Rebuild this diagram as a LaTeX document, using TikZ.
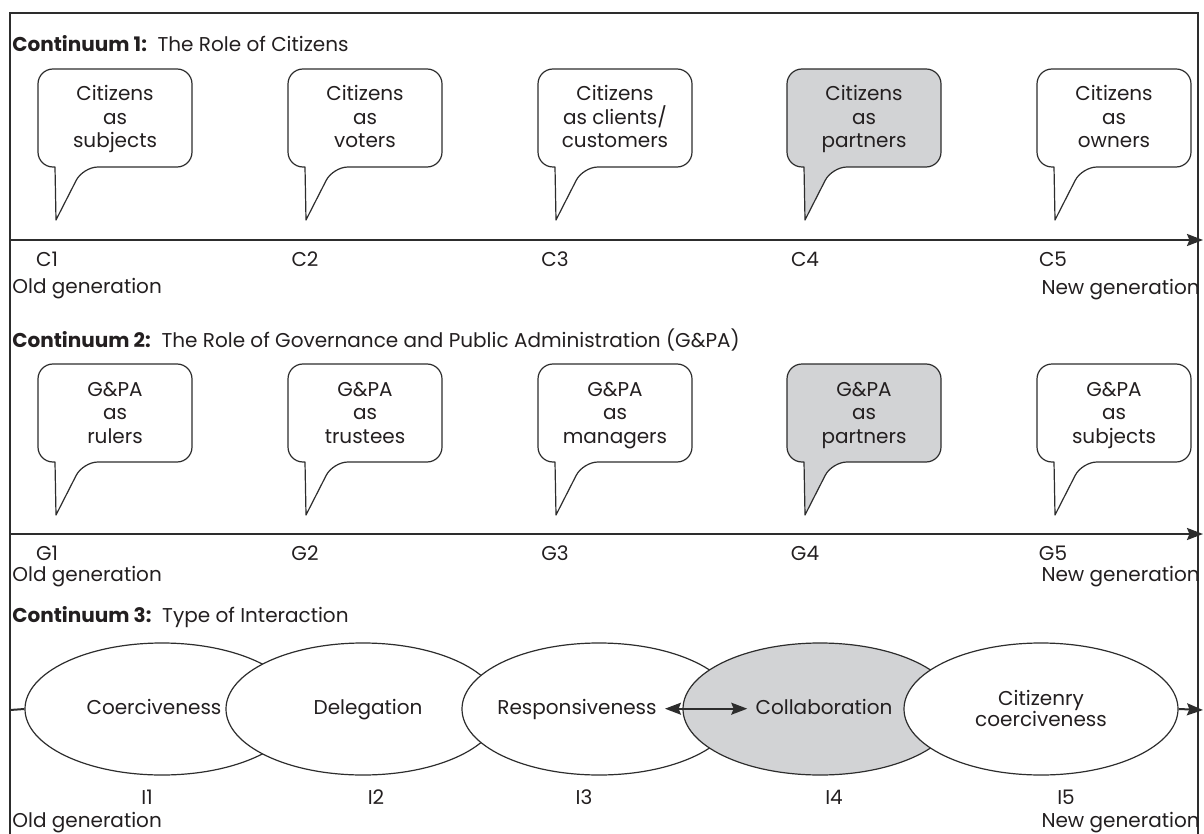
\documentclass[tikz,border=0pt]{standalone}
\usepackage{fontspec}
\setmainfont{Poppins}
\usetikzlibrary{arrows.meta,shapes.geometric}
\definecolor{ink}{RGB}{35,31,32}
\definecolor{rule}{RGB}{45,45,45}
\definecolor{shade}{RGB}{210,211,213}
\tikzset{
  tip/.tip={Stealth[length=8pt,width=6pt,inset=1.2pt]},
  bubble/.style={draw=rule, line width=0.6pt, line join=round},
  bubtext/.style={align=center, text=ink, inner sep=0pt, anchor=base,
    font=\fontsize{10}{11.75}\selectfont},
  axisline/.style={draw=rule, line width=1pt, -tip},
  frameline/.style={draw=rule, line width=1pt},
  heading/.style={anchor=west, text=ink, inner sep=0pt,
    font=\fontsize{10}{12}\selectfont},
  ticklabel/.style={text=ink, inner sep=0pt, font=\fontsize{10}{12}\selectfont},
  genlabel/.style={text=ink, inner sep=0pt, font=\fontsize{10}{12}\selectfont},
  stage/.style={ellipse, draw=rule, line width=0.6pt, fill=white,
    minimum width=137pt, minimum height=66pt, inner sep=0pt},
  stagetext/.style={align=center, text=ink, inner sep=1pt, anchor=base,
    text height=7.5pt, text depth=2.2pt, font=\fontsize{10}{10.5}\selectfont},
  stagetwo/.style={align=center, text=ink, inner sep=1pt, anchor=base,
    font=\fontsize{10}{10.5}\selectfont},
}
% speech bubble: name, left x, top y, fill colour, text (base = last line)
\newcommand\speechbubble[5]{%
  \draw[bubble, fill=#4] ({#2+17},{#3+98}) [rounded corners=7.5pt]
    -- ({#2},{#3+98}) -- ({#2},{#3}) -- ({#2+154},{#3}) -- ({#2+154},{#3+98})
    -- ({#2+45},{#3+98}) [sharp corners] -- ({#2+18},{#3+151}) -- cycle;
  \node[bubtext] (#1) at ({#2+77},{#3+79}) {#5};}
\begin{document}
\begin{tikzpicture}[x=0.5pt, y=-0.5pt]
\useasboundingbox (0,0) rectangle (1204,834);
% outer frame (open at the bottom)
\draw[frameline] (10,834) -- (10,13) -- (1198,13) -- (1198,834);

% ---------------- Continuum 1 ----------------
\node[heading] (h1) at (12,44) {\textbf{Continuum 1:}\ \ The Role of Citizens};
\speechbubble{c1}{38}{69}{white}{Citizens\\as\\subjects}
\speechbubble{c2}{288}{69}{white}{Citizens\\as\\voters}
\speechbubble{c3}{538}{69}{white}{Citizens\\as clients/\\customers}
\speechbubble{c4}{787}{69}{shade}{Citizens\\as\\partners}
\speechbubble{c5}{1037}{69}{white}{Citizens\\as\\owners}
\coordinate (a1s) at (10,240);
\coordinate (a1e) at (1203,240);
\draw[axisline] (a1s) -- (a1e);
\node[ticklabel] (tc1) at (47,259) {C1};
\node[ticklabel] (tc2) at (305,259) {C2};
\node[ticklabel] (tc3) at (555,259) {C3};
\node[ticklabel] (tc4) at (805,259) {C4};
\node[ticklabel] (tc5) at (1053,259) {C5};
\node[genlabel, anchor=west] (old1) at (12,289) {Old generation};
\node[genlabel, anchor=east] (new1) at (1200,290) {New generation};

% ---------------- Continuum 2 ----------------
\node[heading] (h2) at (12,340) {\textbf{Continuum 2:}\ \ The Role of Governance and Public Administration (G\&PA)};
\speechbubble{g1}{38}{364}{white}{G\&PA\\as\\rulers}
\speechbubble{g2}{288}{364}{white}{G\&PA\\as\\trustees}
\speechbubble{g3}{538}{364}{white}{G\&PA\\as\\managers}
\speechbubble{g4}{787}{364}{shade}{G\&PA\\as\\partners}
\speechbubble{g5}{1037}{364}{white}{G\&PA\\as\\subjects}
\coordinate (a2s) at (10,534);
\coordinate (a2e) at (1203,534);
\draw[axisline] (a2s) -- (a2e);
\node[ticklabel] (tg1) at (47,553) {G1};
\node[ticklabel] (tg2) at (305,553) {G2};
\node[ticklabel] (tg3) at (555,553) {G3};
\node[ticklabel] (tg4) at (805,553) {G4};
\node[ticklabel] (tg5) at (1053,553) {G5};
\node[genlabel, anchor=west] (old2) at (12,577) {Old generation};
\node[genlabel, anchor=east] (new2) at (1200,577) {New generation};

% ---------------- Continuum 3 ----------------
\node[heading] (h3) at (12,617) {\textbf{Continuum 3:}\ \ Type of Interaction};
\node[stage] (e1) at (162,709) {};
\node[stage] (e2) at (363,709) {};
\node[stage] (e3) at (599,709) {};
\node[stage, fill=shade] (e4) at (820,709) {};
\node[stage] (e5) at (1041,709) {};
\node[stagetext] (coer) at (154,714) {Coerciveness};
\node[stagetext] (dele) at (368,714) {Delegation};
\node[stagetext] (resp) at (577,714) {Responsiveness};
\node[stagetext] (coll) at (824,714) {Collaboration};
\node[stagetwo] (citz) at (1041,726) {Citizenry\\coerciveness};
\draw[draw=rule, line width=0.8pt, tip-tip]
  ([xshift=3pt]resp.east) -- ([xshift=-3pt]coll.west);
\coordinate (a3s) at (10,710);
\coordinate (a3e) at (1203,710);
\draw[frameline] (a3s) -- (e1.west);
\draw[axisline] (e5.east) -- (a3e);
\node[ticklabel] (ti1) at (147,797) {I1};
\node[ticklabel] (ti2) at (376,797) {I2};
\node[ticklabel] (ti3) at (584,797) {I3};
\node[ticklabel] (ti4) at (834,797) {I4};
\node[ticklabel] (ti5) at (1066,797) {I5};
\node[genlabel, anchor=west] (old3) at (12,823) {Old generation};
\node[genlabel, anchor=east] (new3) at (1200,823) {New generation};
\end{tikzpicture}
\end{document}
